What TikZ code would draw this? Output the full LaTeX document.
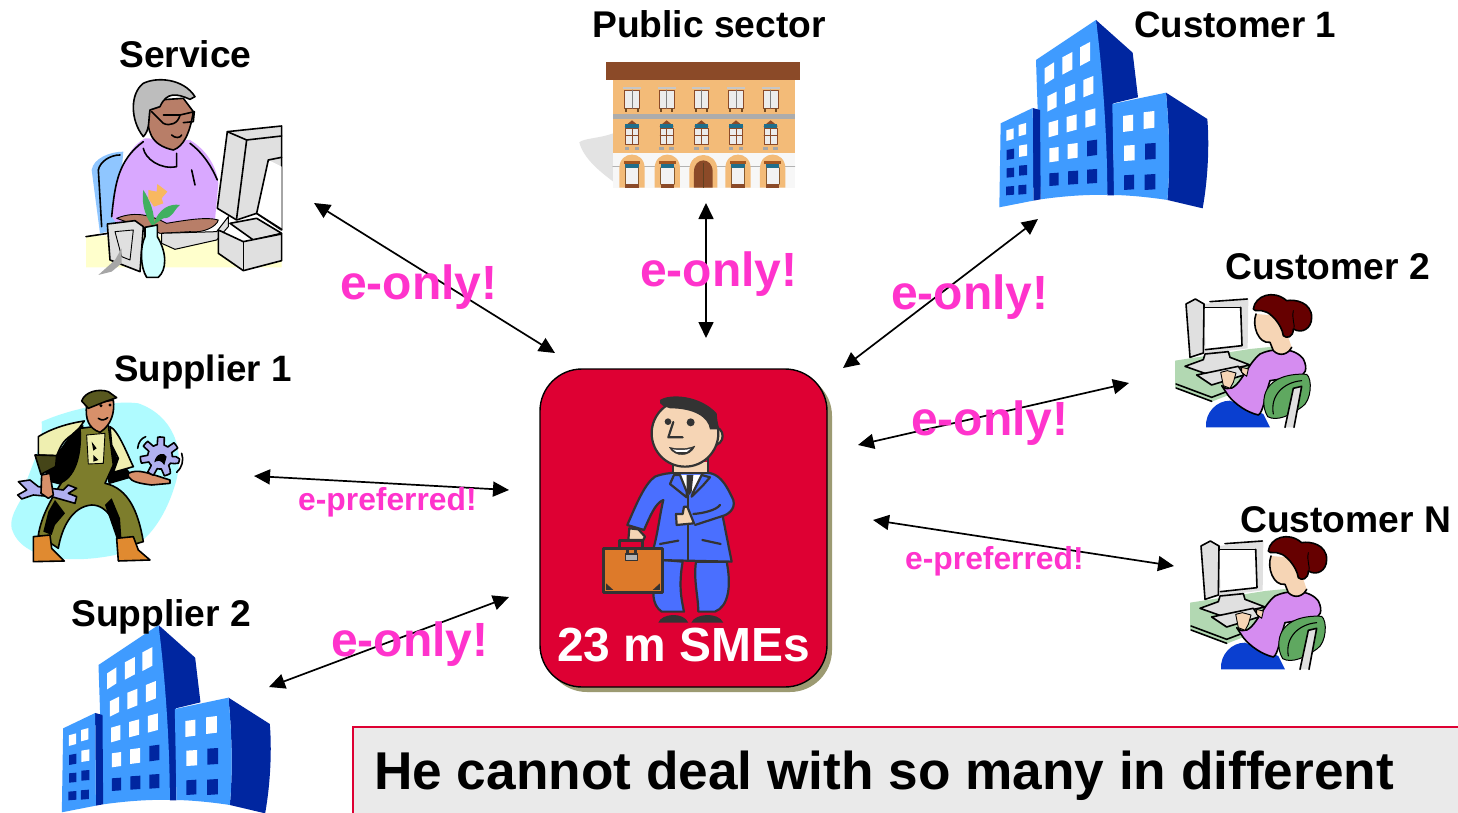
\documentclass[tikz,border=0pt]{standalone}
\usepackage{fontspec}
\setmainfont{Liberation Sans}
\usetikzlibrary{arrows.meta}
\definecolor{towerlight}{HTML}{3F9BFF}
\definecolor{towerdark}{HTML}{0026A0}
\definecolor{labelpink}{HTML}{FF33CC}
\definecolor{smered}{HTML}{DE0033}
\definecolor{smeshadow}{HTML}{9C9A72}
\definecolor{inkgrey}{HTML}{333333}
\definecolor{suitblue}{HTML}{4A6FFF}
\definecolor{skinpeach}{HTML}{F6D5B5}
\definecolor{caseorange}{HTML}{DD7A2A}
\definecolor{shirtlilac}{HTML}{D9A8FF}
\definecolor{womanlilac}{HTML}{D58CF0}
\definecolor{deskgreen}{HTML}{B2D8B2}
\definecolor{chairgreen}{HTML}{5FA860}
\definecolor{hairred}{HTML}{660000}
\definecolor{pantsblue}{HTML}{0A3FD0}
\definecolor{monitorgrey}{HTML}{E0E0E0}
\definecolor{wallbuff}{HTML}{F3BB78}
\definecolor{roofbrown}{HTML}{8B4A28}
\definecolor{teal}{HTML}{1F6E8C}
\definecolor{olivecloth}{HTML}{7D7D2C}
\definecolor{creamcloth}{HTML}{EFEFB0}
\definecolor{skycyan}{HTML}{AFFBFF}
\definecolor{gearlilac}{HTML}{B0B0F0}
\definecolor{bootorange}{HTML}{E08A30}
\definecolor{noteback}{HTML}{EAEAEA}
\definecolor{noteline}{HTML}{DE0033}
\definecolor{chairblue}{HTML}{8FC6FF}
\definecolor{skinbrown}{HTML}{B87E68}
\definecolor{hairgrey}{HTML}{BDBDBD}
\definecolor{petalorange}{HTML}{F8B860}
\definecolor{leafgreen}{HTML}{40B060}
\definecolor{vasecyan}{HTML}{CFFFFF}
\definecolor{deskyellow}{HTML}{FFFFCC}
\definecolor{workerskin}{HTML}{D8906A}
\tikzset{
  x=1pt,y=-1pt,
  twoway/.style={{Triangle[length=16pt,width=15pt]}-{Triangle[length=16pt,width=15pt]},line width=1.7pt,black},
  titlelabel/.style={font=\bfseries\fontsize{37.2}{40}\selectfont,inner sep=0pt,anchor=base west},
  titleone/.style={font=\bfseries\fontsize{36.7}{40}\selectfont,inner sep=0pt,anchor=base west},
  biglabel/.style={font=\bfseries\fontsize{48}{50}\selectfont,text=labelpink,inner sep=0pt,anchor=base west},
  smalllabel/.style={font=\bfseries\fontsize{31.8}{34}\selectfont,text=labelpink,inner sep=0pt,anchor=base west},
  art/.style={x=.3333pt,y=-.3333pt,line join=round,line cap=round},
  ink/.style={draw=black,line width=1.6pt},
  thin ink/.style={draw=black,line width=.9pt},
  manink/.style={draw=inkgrey,line width=2.2pt}
}
\newcommand\towerwin[6]{\fill[#6] ({#1-#3},{#2-#4+#5}) -- ({#1+#3},{#2-#4-#5}) -- ({#1+#3},{#2+#4-#5}) -- ({#1-#3},{#2+#4+#5}) -- cycle;}
\newcommand\towerart{%
  \fill[towerdark] (318,30) -- (428,128) -- (444,262) -- (370,280) -- (372,556) -- (352,556) -- cycle;
  \fill[towerlight] (138,150) -- (318,30) .. controls (340,200) and (352,400) .. (352,555) .. controls (280,553) and (210,560) .. (152,568) -- cycle;
  \fill[towerdark] (128,294) -- (150,300) -- (152,568) -- (130,572) -- cycle;
  \fill[towerlight] (32,340) -- (128,294) -- (130,572) -- (28,592) -- cycle;
  \fill[towerdark] (528,248) -- (652,327) .. controls (658,400) and (655,500) .. (638,595) -- (532,570) .. controls (540,480) and (540,380) .. (528,248) -- cycle;
  \fill[towerlight] (367,282) -- (528,248) .. controls (540,380) and (540,480) .. (532,570) .. controls (480,562) and (420,556) .. (372,555) -- cycle;
  \towerwin{178}{190}{14}{24}{9}{white}
  \towerwin{232}{160}{15}{26}{8}{white}
  \towerwin{285}{132}{15}{28}{8}{white}
  \towerwin{186}{275}{14}{23}{7}{white}
  \towerwin{240}{252}{15}{25}{6}{white}
  \towerwin{295}{230}{15}{26}{6}{white}
  \towerwin{190}{356}{14}{22}{4}{white}
  \towerwin{245}{340}{15}{23}{4}{white}
  \towerwin{301}{324}{15}{25}{4}{white}
  \towerwin{192}{434}{14}{21}{2}{white}
  \towerwin{248}{423}{15}{22}{2}{white}
  \towerwin{306}{414}{15}{23}{2}{towerdark}
  \towerwin{192}{508}{14}{19}{1}{towerdark}
  \towerwin{249}{503}{15}{20}{1}{towerdark}
  \towerwin{306}{499}{15}{21}{1}{towerdark}
  \towerwin{414}{340}{15}{24}{2}{white}
  \towerwin{477}{330}{16}{25}{2}{white}
  \towerwin{418}{429}{16}{23}{1}{white}
  \towerwin{481}{424}{16}{24}{1}{towerdark}
  \towerwin{417}{517}{15}{22}{1}{towerdark}
  \towerwin{480}{516}{16}{23}{1}{towerdark}
  \towerwin{60}{374}{11}{16}{3}{white}
  \towerwin{97}{359}{11}{17}{3}{white}
  \towerwin{61}{433}{11}{15}{2}{towerdark}
  \towerwin{99}{422}{12}{17}{2}{white}
  \towerwin{61}{488}{11}{14}{1}{towerdark}
  \towerwin{99}{481}{12}{15}{1}{towerdark}
  \towerwin{60}{542}{12}{13}{1}{towerdark}
  \towerwin{97}{539}{12}{14}{1}{towerdark}
}
\newcommand\womanart{%
  % desk
  \fill[deskgreen] (15,215) -- (240,180) -- (320,172) -- (300,270) -- (125,338) -- (15,295) -- cycle;
  \draw[ink] (18,285) -- (125,325) -- (230,285);
  \draw[ink] (18,297) -- (125,337);
  % monitor
  \fill[monitorgrey] (48,45) -- (76,30) -- (102,45) -- (235,30) -- (233,178) -- (100,195) -- (60,205) -- cycle;
  \draw[ink] (48,45) -- (76,30) -- (102,45) -- (100,192) -- (60,205) -- cycle;
  \draw[ink] (120,38) -- (232,30);
  \fill[white] (105,55) -- (212,55) -- (216,170) -- (106,182) -- cycle;
  \draw[ink] (212,55) -- (216,170) -- (106,182);
  \draw[ink] (105,55) -- (212,55);
  % base and keyboard
  \filldraw[fill=monitorgrey,ink] (45,232) -- (100,212) -- (105,195) -- (175,188) -- (180,205) -- (240,228) -- (110,255) -- cycle;
  \filldraw[fill=monitorgrey,ink] (80,258) -- (205,232) -- (222,258) -- (125,288) -- cycle;
  % pants
  \fill[pantsblue] (108,415) .. controls (105,370) and (140,335) .. (180,335) -- (280,375) -- (300,415) -- cycle;
  % torso
  \filldraw[fill=womanlilac,ink] (175,320) -- (155,290) .. controls (200,330) and (225,230) .. (270,195) .. controls (300,180) and (370,170) .. (400,210) .. controls (415,240) and (405,260) .. (385,262) -- (300,275) .. controls (285,320) and (280,370) .. (265,378) .. controls (230,370) and (195,345) .. cycle;
  % neck / face
  \fill[skinpeach] (258,75) .. controls (245,110) and (265,165) .. (300,160) -- (310,185) .. controls (330,205) and (355,195) .. (365,175) -- (350,130) -- (320,80) -- cycle;
  \draw[ink] (258,75) .. controls (245,110) and (265,165) .. (300,160) -- (310,185) .. controls (330,205) and (355,195) .. (365,175);
  % hair
  \filldraw[fill=hairred,ink] (250,60) .. controls (255,20) and (310,0) .. (350,35) .. controls (375,30) and (425,40) .. (425,85) .. controls (425,120) and (395,135) .. (370,120) .. controls (370,145) and (350,150) .. (340,140) .. controls (335,105) and (300,70) .. (285,68) .. controls (270,60) and (255,70) .. cycle;
  \draw[draw=black,line width=.9pt] (370,65) .. controls (365,90) and (375,105) .. (372,120);
  % hands
  \filldraw[fill=skinpeach,thin ink] (152,250) -- (172,245) -- (198,252) -- (190,280) -- (180,298) -- (160,290) -- cycle;
  \filldraw[fill=skinpeach,thin ink] (215,235) -- (235,240) -- (230,262) -- (215,250) -- cycle;
  % chair
  \filldraw[fill=chairgreen,draw=black,line width=1pt] (282,330) .. controls (288,272) and (350,252) .. (410,256) .. controls (428,270) and (424,335) .. (397,353) .. controls (360,380) and (320,398) .. (293,383) .. controls (283,365) and (280,350) .. cycle;
  \draw[draw=black,line width=1.1pt] (310,375) .. controls (300,320) and (340,280) .. (395,275);
  \filldraw[fill=monitorgrey,ink] (345,415) -- (370,298) -- (395,292) -- (372,415);
}
\begin{document}
\begin{tikzpicture}
\useasboundingbox (0,0) rectangle (1458,813);
\fill[white] (0,0) rectangle (1458,813);

% ---- Service picture
\begin{scope}[shift={(80,70)},art]
  \fill[deskyellow] (18,498) -- (420,498) -- (420,525) -- (605,525) -- (605,592) -- (18,592) -- cycle;
  \draw[ink] (18,500) -- (85,490);
  \fill[chairblue] (35,300) .. controls (40,265) and (90,245) .. (130,245) -- (110,480) -- (60,490) -- cycle;
  \draw[ink] (55,300) .. controls (60,275) and (90,255) .. (120,255);
  \draw[ink] (55,300) -- (65,470);
  \fill[shirtlilac] (95,440) .. controls (105,340) and (130,240) .. (195,205) -- (330,210) .. controls (380,240) and (410,290) .. (415,340) -- (405,450) -- (250,460) -- (110,460) -- cycle;
  \draw[ink] (95,440) .. controls (105,340) and (115,270) .. (190,215);
  \draw[ink] (190,235) .. controls (195,265) and (240,300) .. (290,290) -- (290,250);
  \draw[ink] (330,220) .. controls (370,250) and (395,290) .. (412,330);
  \draw[ink] (335,300) -- (345,345);
  % face
  \filldraw[fill=skinbrown,ink] (205,125) .. controls (200,180) and (210,225) .. (280,240) .. controls (310,230) and (330,190) .. (340,125) -- (310,85) -- (235,90) -- cycle;
  \draw[ink] (275,195) .. controls (285,205) and (300,205) .. (305,195);
  % hair
  \filldraw[fill=hairgrey,ink] (190,200) .. controls (150,150) and (150,70) .. (190,40) .. controls (230,20) and (310,25) .. (345,80) -- (330,88) .. controls (290,70) and (260,65) .. (240,110) -- (210,120) .. controls (205,150) and (210,180) .. cycle;
  % glasses
  \draw[ink] (215,125) -- (250,160) .. controls (270,170) and (295,160) .. (300,135) -- (250,135);
  \draw[ink] (300,135) -- (343,125) -- (340,155) -- (310,158);
  % hand & arm
  \filldraw[fill=skinbrown,thin ink] (110,445) .. controls (170,420) and (220,440) .. (260,460) .. controls (320,450) and (380,440) .. (415,450) .. controls (410,470) and (370,490) .. (330,485) -- (240,490) .. controls (190,470) and (150,460) .. cycle;
  % keyboard
  \filldraw[fill=monitorgrey,draw=black,line width=1pt] (245,490) -- (410,485) -- (445,440) -- (445,470) -- (410,510) -- (285,538) -- (245,520) -- cycle;
  % monitor
  \filldraw[fill=monitorgrey,ink] (412,415) -- (442,185) -- (605,168) -- (605,480) -- (530,430) -- (470,450) -- cycle;
  \draw[ink] (442,185) -- (500,210) -- (605,198);
  \draw[ink] (500,210) -- (470,445);
  \fill[white] (565,270) -- (605,290) -- (605,480) -- (530,430) -- cycle;
  \draw[ink] (565,270) -- (530,430) -- (605,478);
  \draw[ink] (565,270) -- (605,262);
  \filldraw[fill=monitorgrey,ink] (450,460) -- (530,445) -- (605,490) -- (520,510) -- cycle;
  \filldraw[fill=monitorgrey,ink] (415,480) -- (490,515) -- (605,492) -- (605,572) -- (490,602) -- (415,550) -- cycle;
  \draw[ink] (490,515) -- (490,600);
  % frame
  \filldraw[fill=monitorgrey,ink] (82,462) -- (165,452) -- (190,470) -- (180,605) -- (90,570) -- cycle;
  \draw[thin ink] (105,485) -- (160,480) -- (150,570) -- (125,560) -- (105,485);
  \fill[gray!70] (55,615) -- (105,570) -- (125,535) -- (125,580) -- (95,605) -- cycle;
  % vase and flower
  \filldraw[fill=vasecyan,ink] (195,472) -- (232,465) -- (232,500) .. controls (262,550) and (260,600) .. (235,622) -- (200,622) .. controls (180,590) and (180,530) .. (195,500) -- cycle;
  \fill[leafgreen] (215,465) .. controls (190,430) and (185,390) .. (190,360) .. controls (210,390) and (225,430) .. (222,465) -- cycle;
  \fill[leafgreen] (220,465) .. controls (235,415) and (270,400) .. (300,405) .. controls (280,420) and (280,445) .. (250,445) -- cycle;
  \fill[petalorange] (205,360) -- (230,365) -- (232,342) -- (262,365) -- (245,385) -- (250,400) -- (222,410) -- (205,385) -- cycle;
\end{scope}
\node[titlelabel] (service) at (119,68) {Service};

% ---- Public sector picture
\begin{scope}[shift={(570,55)},art]
  \fill[gray!22] (130,235) .. controls (90,250) and (40,250) .. (28,262) .. controls (40,310) and (90,350) .. (130,380) -- cycle;
  \fill[wallbuff] (128,72) rectangle (675,295);
  \fill[roofbrown] (108,20) rectangle (690,74);
  \fill[gray!65] (128,176) rectangle (675,192);
  \fill[gray!6] (128,293) rectangle (675,398);
  \foreach \wx in {186,290,394,498,602} {
    \fill[gray!45] ({\wx-27},97) rectangle ({\wx+27},103);
    \fill[gray!15] ({\wx-22},105) rectangle ({\wx+22},160);
    \draw[roofbrown,line width=.8pt] ({\wx-22},105) rectangle ({\wx+22},160);
    \draw[gray,line width=.5pt] (\wx,105) -- (\wx,160);
    \fill[brown!60!black] ({\wx-20},160) rectangle ({\wx-14},170);
    \fill[brown!60!black] ({\wx+14},160) rectangle ({\wx+20},170);
    \fill[roofbrown] ({\wx-22},214) -- (\wx,196) -- ({\wx+22},214) -- cycle;
    \fill[teal] ({\wx-20},208) rectangle ({\wx+20},220);
    \fill[gray!15] ({\wx-20},220) rectangle ({\wx+20},268);
    \draw[roofbrown,line width=.8pt] ({\wx-20},220) rectangle ({\wx+20},268);
    \draw[roofbrown,line width=.5pt] (\wx,220) -- (\wx,268) ({\wx-20},240) -- ({\wx+20},240);
    \fill[gray!70] ({\wx-22},275) rectangle ({\wx-8},286);
    \fill[gray!70] ({\wx+8},275) rectangle ({\wx+22},286);
  }
  \draw[gray!60,line width=.5pt] (128,335) -- (675,335);
  \foreach \ax in {186,292,504,608} {
    \fill[wallbuff] ({\ax-38},398) -- ({\ax-38},340) .. controls ({\ax-38},285) and ({\ax+38},285) .. ({\ax+38},340) -- ({\ax+38},398) -- cycle;
    \fill[roofbrown!80!orange] ({\ax-25},318) rectangle ({\ax+25},328);
    \fill[teal] ({\ax-20},328) rectangle ({\ax+20},338);
    \fill[gray!10] ({\ax-20},338) rectangle ({\ax+20},388);
    \fill[roofbrown] ({\ax-20},388) rectangle ({\ax+20},398);
    \draw[brown!70!black,line width=.6pt] ({\ax-20},338) -- ({\ax-20},388) ({\ax+20},338) -- ({\ax+20},388);
  }
  \fill[wallbuff] (358,398) -- (358,345) .. controls (358,285) and (442,285) .. (442,345) -- (442,398) -- cycle;
  \fill[roofbrown] (372,398) -- (372,350) .. controls (372,305) and (428,305) .. (428,350) -- (428,398) -- cycle;
  \draw[brown!50!black,line width=.5pt] (400,325) -- (400,398);
\end{scope}
\node[titlelabel] (public) at (592,37.5) {Public sector};

% ---- Customer 1 and Supplier 2 towers
\begin{scope}[shift={(990,10)},art]\towerart\end{scope}
\node[titleone] (cust1) at (1134,37.5) {Customer 1};
\begin{scope}[shift={(52.5,615)},art]\towerart\end{scope}
\node[titlelabel] (supp2) at (71,626) {Supplier 2};

% ---- Customer 2 and Customer N
\begin{scope}[shift={(1170,289)},art]\womanart\end{scope}
\node[titlelabel] (cust2) at (1225,279) {Customer 2};
\begin{scope}[shift={(1185,531)},art]\womanart\end{scope}
\node[titlelabel] (custn) at (1240,532) {Customer N};

% ---- Supplier 1 picture
\begin{scope}[shift={(5,385)},art]
  \fill[skycyan] (110,110) .. controls (200,70) and (330,45) .. (400,55) .. controls (500,90) and (545,190) .. (510,300) .. controls (480,400) and (420,490) .. (330,510) .. controls (210,535) and (50,530) .. (20,430) .. controls (10,380) and (70,330) .. (60,300) .. controls (90,220) and (115,170) .. (110,110) -- cycle;
  % shade behind the bib
  \fill[black] (150,215) -- (210,130) -- (235,120) -- (235,290) -- (170,300) -- (130,290) -- (118,250) -- cycle;
  \fill[black] (305,130) -- (335,215) -- (375,262) -- (372,280) -- (310,298) -- cycle;
  % trousers
  \filldraw[fill=olivecloth,ink] (225,130) -- (310,120) -- (325,240) -- (300,295) .. controls (370,310) and (400,380) .. (415,470) -- (345,490) .. controls (340,420) and (310,360) .. (260,360) .. controls (200,365) and (170,430) .. (160,490) -- (100,450) .. controls (110,390) and (140,340) .. (170,292) .. controls (215,270) and (230,200) .. (225,130) -- cycle;
  \fill[black] (130,380) -- (150,345) -- (180,385) -- (150,420) -- (140,450) -- (115,440) -- cycle;
  \fill[black] (300,360) -- (320,340) -- (345,400) -- (350,470) -- (345,490) -- cycle;
  % shirt
  \filldraw[fill=creamcloth,ink] (100,155) .. controls (140,130) and (190,115) .. (238,108) -- (222,130) -- (200,150) .. controls (170,170) and (165,190) .. (155,212) -- (100,210) -- cycle;
  \filldraw[fill=creamcloth,ink] (315,125) .. controls (340,135) and (370,215) .. (385,245) -- (325,262) -- (340,220) -- (320,180) -- cycle;
  \filldraw[fill=creamcloth,thin ink] (245,150) -- (300,145) -- (295,235) -- (250,237) -- cycle;
  \fill[black] (260,170) -- (275,190) -- (265,197) -- cycle;
  \fill[black] (265,210) -- (280,225) -- (265,230) -- cycle;
  % cuff
  \filldraw[fill=olivecloth!55!black,ink] (90,210) -- (155,212) -- (152,245) -- (108,268) -- cycle;
  % head
  \filldraw[fill=workerskin,ink] (245,60) .. controls (240,100) and (250,130) .. (285,142) .. controls (320,120) and (330,80) .. (325,45) -- cycle;
  \filldraw[fill=olivecloth!70!black,ink] (230,48) .. controls (240,20) and (280,10) .. (310,20) -- (335,38) -- (300,50) -- (250,70) -- cycle;
  \draw[ink] (280,100) .. controls (290,108) and (300,105) .. (308,98);
  \fill[black] (288,62) circle (5) (315,60) circle (5);
  % wrench
  \filldraw[fill=gearlilac,ink] (40,290) -- (75,285) -- (100,305) -- (175,315) -- (190,300) -- (215,310) -- (190,325) -- (215,335) -- (210,355) -- (175,345) -- (140,335) -- (85,330) -- (50,342) -- (38,330) -- (65,315) -- cycle;
  \filldraw[fill=workerskin,ink] (110,270) -- (135,265) -- (145,330) -- (130,340) -- (108,325) -- cycle;
  % right hand
  \filldraw[fill=workerskin,ink] (370,265) .. controls (400,250) and (430,265) .. (495,285) -- (495,295) -- (440,300) .. controls (400,295) and (380,290) .. (370,275) -- cycle;
  % gear
  \filldraw[fill=gearlilac,ink] plot[domain=0:360,samples=57] ({465+(48+11*sign(sin(7*\x)))*cos(\x)},{215+(48+11*sign(sin(7*\x)))*sin(\x)}) -- cycle;
  \fill[black] (448,232) .. controls (452,205) and (478,200) .. (485,215) -- (478,240) .. controls (468,225) and (458,225) .. (448,232) -- cycle;
  \draw[ink] (398,190) .. controls (400,170) and (410,160) .. (422,155);
  \draw[ink] (530,205) .. controls (538,225) and (530,250) .. (515,262);
  % boots
  \filldraw[fill=bootorange,ink] (85,455) -- (135,450) -- (140,490) -- (178,528) -- (85,530) -- cycle;
  \filldraw[fill=bootorange,ink] (335,460) -- (385,455) -- (400,495) -- (435,525) -- (340,528) -- cycle;
\end{scope}
\node[titleone] (supp1) at (114,381) {Supplier 1};

% ---- Central SME box
\fill[smeshadow] (545,374) [rounded corners=42pt] -- (832,374) -- (832,692) -- (545,692) -- cycle;
\node[draw=black,line width=1.4pt,fill=smered,rounded corners=42pt,minimum width=287pt,minimum height=318pt,inner sep=0pt] (sme) at (683.5,528) {};
\begin{scope}[shift={(530,360)},art]
  % legs
  \filldraw[fill=suitblue,manink] (400,600) -- (458,605) .. controls (445,680) and (455,720) .. (462,755) -- (395,755) .. controls (365,735) and (365,690) .. (380,650) -- cycle;
  \filldraw[fill=suitblue,manink] (498,605) -- (590,605) .. controls (605,680) and (595,740) .. (555,755) -- (505,755) .. controls (505,710) and (490,660) .. (498,605) -- cycle;
  \fill[inkgrey] (385,788) .. controls (395,760) and (460,755) .. (475,788) -- cycle;
  \fill[inkgrey] (484,788) .. controls (495,760) and (565,755) .. (580,788) -- cycle;
  % jacket
  \filldraw[fill=suitblue,manink] (292,495) .. controls (320,430) and (345,370) .. (375,350) .. controls (400,340) and (420,340) .. (430,338) -- (530,338) .. controls (565,340) and (585,365) .. (610,420) .. controls (618,450) and (590,465) .. (578,468) -- (605,605) -- (375,600) -- (372,560) .. controls (385,510) and (390,460) .. (400,420) .. controls (375,430) and (360,470) .. (342,510) -- cycle;
  \fill[white] (450,345) -- (515,345) -- (490,395) -- (470,395) -- cycle;
  \fill[inkgrey] (470,345) -- (490,345) -- (485,395) -- (478,405) -- (470,395) -- cycle;
  \filldraw[fill=suitblue,manink] (432,345) -- (420,372) -- (470,412) -- (470,395) -- (450,345) -- cycle;
  \filldraw[fill=suitblue,manink] (515,345) -- (540,352) -- (520,375) -- (485,410) -- (490,395) -- cycle;
  \draw[manink] (474,405) -- (474,600);
  \draw[manink] (390,552) -- (445,542);
  \draw[manink] (517,540) -- (572,552);
  \draw[manink] (490,462) .. controls (520,460) and (560,450) .. (570,435);
  \draw[manink] (495,495) -- (578,468);
  % hands
  \filldraw[fill=skinpeach,manink] (438,462) -- (458,462) -- (462,440) -- (472,440) -- (478,455) -- (492,490) -- (440,495) -- cycle;
  \filldraw[fill=skinpeach,manink] (298,505) -- (325,508) -- (345,530) -- (340,540) -- (295,540) -- cycle;
  % neck and head
  \fill[skinpeach] (430,305) rectangle (530,336);
  \draw[manink] (430,300) -- (430,336) (535,270) -- (535,336);
  \filldraw[fill=skinpeach,manink] (550,228) circle (28);
  \filldraw[fill=skinpeach,manink] (465,220) circle (100);
  \fill[inkgrey] (390,120) .. controls (420,100) and (510,105) .. (560,160) -- (565,208) -- (540,208) .. controls (535,170) and (490,145) .. (420,145) .. controls (405,140) and (385,135) .. (390,120) -- cycle;
  \fill[inkgrey] (414,185) circle (10) (482,187) circle (12);
  \draw[manink] (430,186) -- (415,232) -- (458,232);
  \filldraw[fill=inkgrey,draw=inkgrey] (418,262) .. controls (450,270) and (480,265) .. (495,258) .. controls (480,292) and (435,292) .. (418,262) -- cycle;
  \fill[white] (428,268) .. controls (450,272) and (470,270) .. (482,266) -- (470,276) -- (440,276) -- cycle;
  % briefcase
  \draw[draw=inkgrey,line width=2.4pt] (268,562) -- (268,542) -- (337,542) -- (337,562);
  \filldraw[fill=caseorange,draw=inkgrey,line width=2.6pt] (220,565) rectangle (398,697);
  \fill[inkgrey] (228,670) -- (250,690) -- (228,690) -- cycle (390,670) -- (368,690) -- (390,690) -- cycle;
  \filldraw[fill=gray!60,draw=inkgrey,line width=1.2pt] (287,582) rectangle (322,602);
  \fill[inkgrey] (287,568) rectangle (322,582);
  \fill[caseorange] (297,570) rectangle (312,580);
\end{scope}
\node[font=\bfseries\fontsize{47.9}{50}\selectfont,text=white,inner sep=0pt,anchor=base west] (smetext) at (557,661) {23 m SMEs};

% ---- Note box
\fill[noteback] (353,727) rectangle (1458,813);
\draw[noteline,line width=1.5pt] (353,813) -- (353,727) -- (1458,727);
\node[font=\bfseries\fontsize{53.2}{55}\selectfont,text=black,inner sep=0pt,anchor=base west] (note) at (374,789) {He cannot deal with so many in different};

% ---- Connector ends and connectors
\coordinate (serviceEnd) at (314,203);
\coordinate (smeNW) at (555,353);
\coordinate (publicEnd) at (706,203);
\coordinate (smeN) at (706,338);
\coordinate (cust1End) at (1038,219);
\coordinate (smeNE) at (843,368);
\coordinate (cust2End) at (1129,383);
\coordinate (smeE) at (858,445);
\coordinate (custnEnd) at (1174,566);
\coordinate (smeSE) at (873,520);
\coordinate (supp1End) at (254,476);
\coordinate (smeW) at (509,490);
\coordinate (supp2End) at (269,687);
\coordinate (smeSW) at (509,597);
\draw[twoway] (serviceEnd) -- (smeNW);
\draw[twoway] (publicEnd) -- (smeN);
\draw[twoway] (cust1End) -- (smeNE);
\draw[twoway] (cust2End) -- (smeE);
\draw[twoway] (custnEnd) -- (smeSE);
\draw[twoway] (supp1End) -- (smeW);
\draw[twoway] (supp2End) -- (smeSW);

% ---- Labels
\node[biglabel] (l1) at (340,299) {e-only!};
\node[biglabel] (l2) at (640,286) {e-only!};
\node[biglabel] (l3) at (891,309) {e-only!};
\node[biglabel] (l4) at (911,435) {e-only!};
\node[biglabel] (l5) at (331,656) {e-only!};
\node[smalllabel] (l6) at (298,510) {e-preferred!};
\node[smalllabel] (l7) at (905,569) {e-preferred!};
\end{tikzpicture}
\end{document}
